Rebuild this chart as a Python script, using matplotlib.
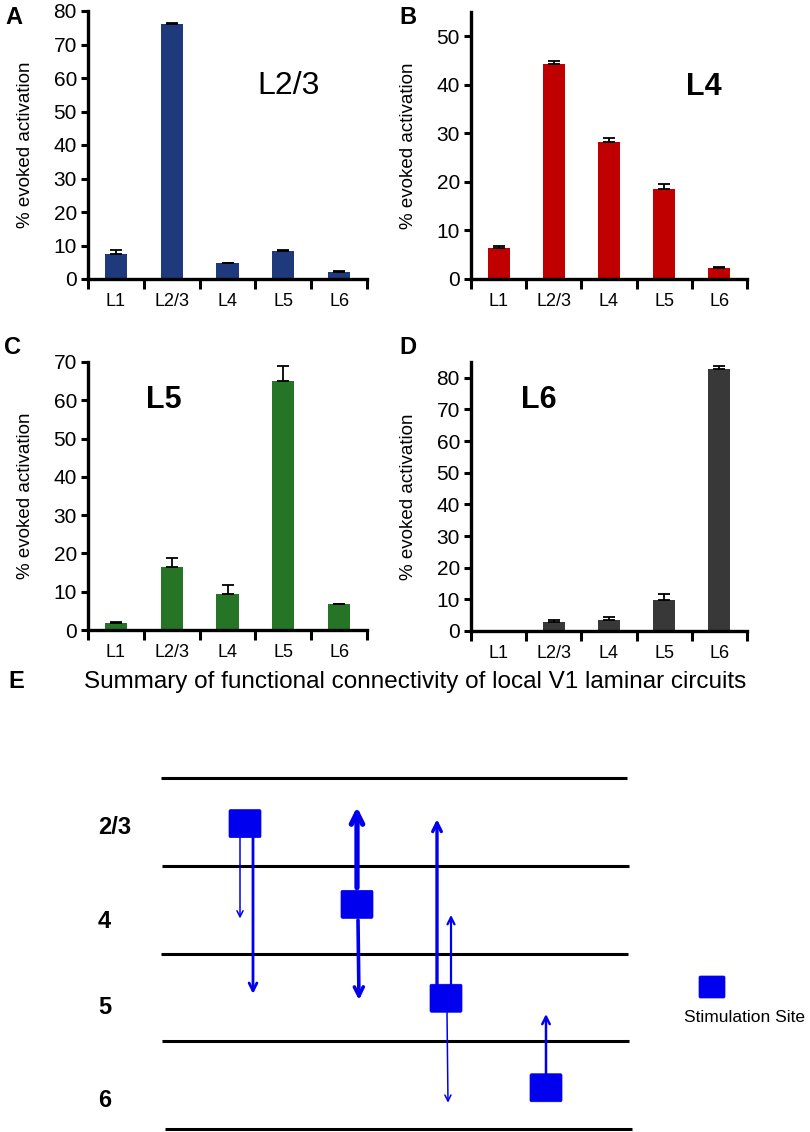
import matplotlib
matplotlib.use("Agg")
import matplotlib.pyplot as plt
from matplotlib.patches import FancyBboxPatch
import numpy as np

plt.rcParams['font.family'] = ['Liberation Sans', 'DejaVu Sans']

# ---------------- data ----------------
layers = ["L1", "L2/3", "L4", "L5", "L6"]

vals_A = [7.5, 76.0, 4.8, 8.5, 2.2]
err_A = [1.3, 0.3, 0.1, 0.2, 0.3]
vals_B = [6.4, 44.3, 28.3, 18.6, 2.2]
err_B = [0.5, 0.7, 0.7, 1.0, 0.2]
vals_C = [1.8, 16.5, 9.5, 65.0, 6.7]
err_C = [0.3, 2.3, 2.2, 4.0, 0.2]
vals_D = [0.0, 3.0, 3.4, 9.8, 82.8]
err_D = [0.0, 0.4, 0.9, 1.9, 1.0]

ymax_A, ymax_B, ymax_C, ymax_D = 80, 55, 70, 85
yticks_A = [0, 10, 20, 30, 40, 50, 60, 70, 80]
yticks_B = [0, 10, 20, 30, 40, 50]
yticks_C = [0, 10, 20, 30, 40, 50, 60, 70]
yticks_D = [0, 10, 20, 30, 40, 50, 60, 70, 80]

col_A, col_B, col_C, col_D = "#1f3a7c", "#c00000", "#267526", "#383838"

# Panel E schematic (x in figure px columns, y in laminar depth units)
layer_names = ["2/3", "4", "5", "6"]
layer_label_y = [0.56, 1.63, 2.61, 3.68]
boundaries = [0, 1, 2, 3, 4]
site_x = [245, 357, 446, 546]
site_y = [0.52, 1.44, 2.51, 3.53]
arrow_x0 = [240, 253, 357, 358, 437, 451, 447, 546]
arrow_x1 = [240, 253, 357, 359, 437, 451, 448, 546]
arrow_y0 = [0.63, 0.63, 1.25, 1.62, 2.35, 2.35, 2.67, 3.38]
arrow_y1 = [1.60, 2.46, 0.33, 2.53, 0.47, 1.56, 3.70, 2.69]
arrow_lw = [1.1, 2.0, 3.8, 2.6, 2.4, 1.6, 1.1, 1.8]

W, H = 810, 1132
fig = plt.figure(figsize=(W / 100, H / 100), dpi=100)
fig.patch.set_facecolor("white")


def px_axes(left, right, top, bottom):
    return fig.add_axes([left / W, 1 - bottom / H, (right - left) / W, (bottom - top) / H])


def bar_panel(ax, vals, errs, color, ymax, yticks):
    x = np.arange(1, len(vals) + 1)
    ax.bar(x, vals, width=0.4, color=color, zorder=2)
    ax.errorbar(x, vals, yerr=[np.zeros(len(errs)), errs], fmt="none",
                ecolor="black", elinewidth=1.3, capsize=4, capthick=1.3, zorder=3)
    ax.set_xlim(0.5, len(vals) + 0.5)
    ax.set_ylim(0, ymax)
    ax.set_yticks(yticks)
    ax.set_xticks(x)
    ax.set_xticklabels(layers, fontsize=13)
    ax.set_xticks(np.arange(0.5, len(vals) + 1, 1.0), minor=True)
    ax.tick_params(axis="x", which="major", length=0, pad=10)
    ax.tick_params(axis="x", which="minor", length=7, width=2.2, direction="out")
    ax.tick_params(axis="y", length=5, width=2.2, direction="out", labelsize=15, pad=3)
    for s in ("top", "right"):
        ax.spines[s].set_visible(False)
    for s in ("left", "bottom"):
        ax.spines[s].set_linewidth(2.4)
    ax.set_ylabel("% evoked activation", fontsize=13.5, labelpad=14)
    ax.set_facecolor("none")


axA = px_axes(88, 367, 11, 279)
bar_panel(axA, vals_A, err_A, col_A, ymax_A, yticks_A)
axA.text(0.72, 0.72, "L2/3", transform=axA.transAxes, fontsize=23, ha="center", va="center")

axB = px_axes(471, 747, 12, 279)
bar_panel(axB, vals_B, err_B, col_B, ymax_B, yticks_B)
axB.text(0.845, 0.72, "L4", transform=axB.transAxes, fontsize=22, fontweight="bold",
         ha="center", va="center")

axC = px_axes(88, 367, 362, 630)
bar_panel(axC, vals_C, err_C, col_C, ymax_C, yticks_C)
axC.text(0.27, 0.86, "L5", transform=axC.transAxes, fontsize=22, fontweight="bold",
         ha="center", va="center")

axD = px_axes(471, 747, 362, 631)
bar_panel(axD, vals_D, err_D, col_D, ymax_D, yticks_D)
axD.text(0.245, 0.86, "L6", transform=axD.transAxes, fontsize=22, fontweight="bold",
         ha="center", va="center")

# panel letters
for letter, (lx, ly) in {"A": (5, 17), "B": (399, 17), "C": (4, 347), "D": (399, 347), "E": (8, 682)}.items():
    fig.text(lx / W, 1 - ly / H, letter, fontsize=17, fontweight="bold", ha="left", va="center")

# ---------------- panel E ----------------
axE = px_axes(0, 810, 760, 1132)
ppu = (1129 - 778) / 4.0
axE.set_xlim(0, 810)
axE.set_ylim(4 + (1132 - 1129) / ppu, -(778 - 760) / ppu)
axE.axis("off")

fig.text(415 / W, 1 - 682 / H, "Summary of functional connectivity of local V1 laminar circuits",
         fontsize=17.5, ha="center", va="center")

line_x0 = [161, 162, 161, 162, 165]
line_x1 = [627, 629, 628, 629, 632]
for b, x0, x1 in zip(boundaries, line_x0, line_x1):
    axE.plot([x0, x1], [b, b], color="black", lw=2.2, solid_capstyle="butt")

for name, ly in zip(layer_names, layer_label_y):
    axE.text(98, ly, name, fontsize=17, fontweight="bold", ha="left", va="center")

sq_w, sq_h = 32, 28 / ppu
for sx, sy in zip(site_x, site_y):
    axE.add_patch(FancyBboxPatch((sx - sq_w / 2, sy - sq_h / 2), sq_w, sq_h,
                                 boxstyle="round,pad=0,rounding_size=1.5",
                                 mutation_aspect=1 / ppu,
                                 facecolor="#0000ee", edgecolor="#0000ee", lw=0.5, zorder=4))

for x0, x1, y0, y1, lw in zip(arrow_x0, arrow_x1, arrow_y0, arrow_y1, arrow_lw):
    hw = 0.25 + lw * 0.13
    axE.annotate("", xy=(x1, y1), xytext=(x0, y0),
                 arrowprops=dict(arrowstyle=f"->,head_length={hw*1.1:.2f},head_width={hw*0.55:.2f}",
                                 color="#0000ee", lw=lw, shrinkA=0, shrinkB=0),
                 zorder=3)

# legend
axE.add_patch(FancyBboxPatch((712 - 13, (987 - 778) / ppu - 11 / ppu), 26, 22 / ppu,
                             boxstyle="round,pad=0,rounding_size=1.5", mutation_aspect=1 / ppu,
                             facecolor="#0000ee", edgecolor="#0000ee", lw=0.5))
axE.text(745, (1018 - 778) / ppu, "Stimulation Site", fontsize=12.5, ha="center", va="center")

fig.savefig("out.png", dpi=100, facecolor="white")
